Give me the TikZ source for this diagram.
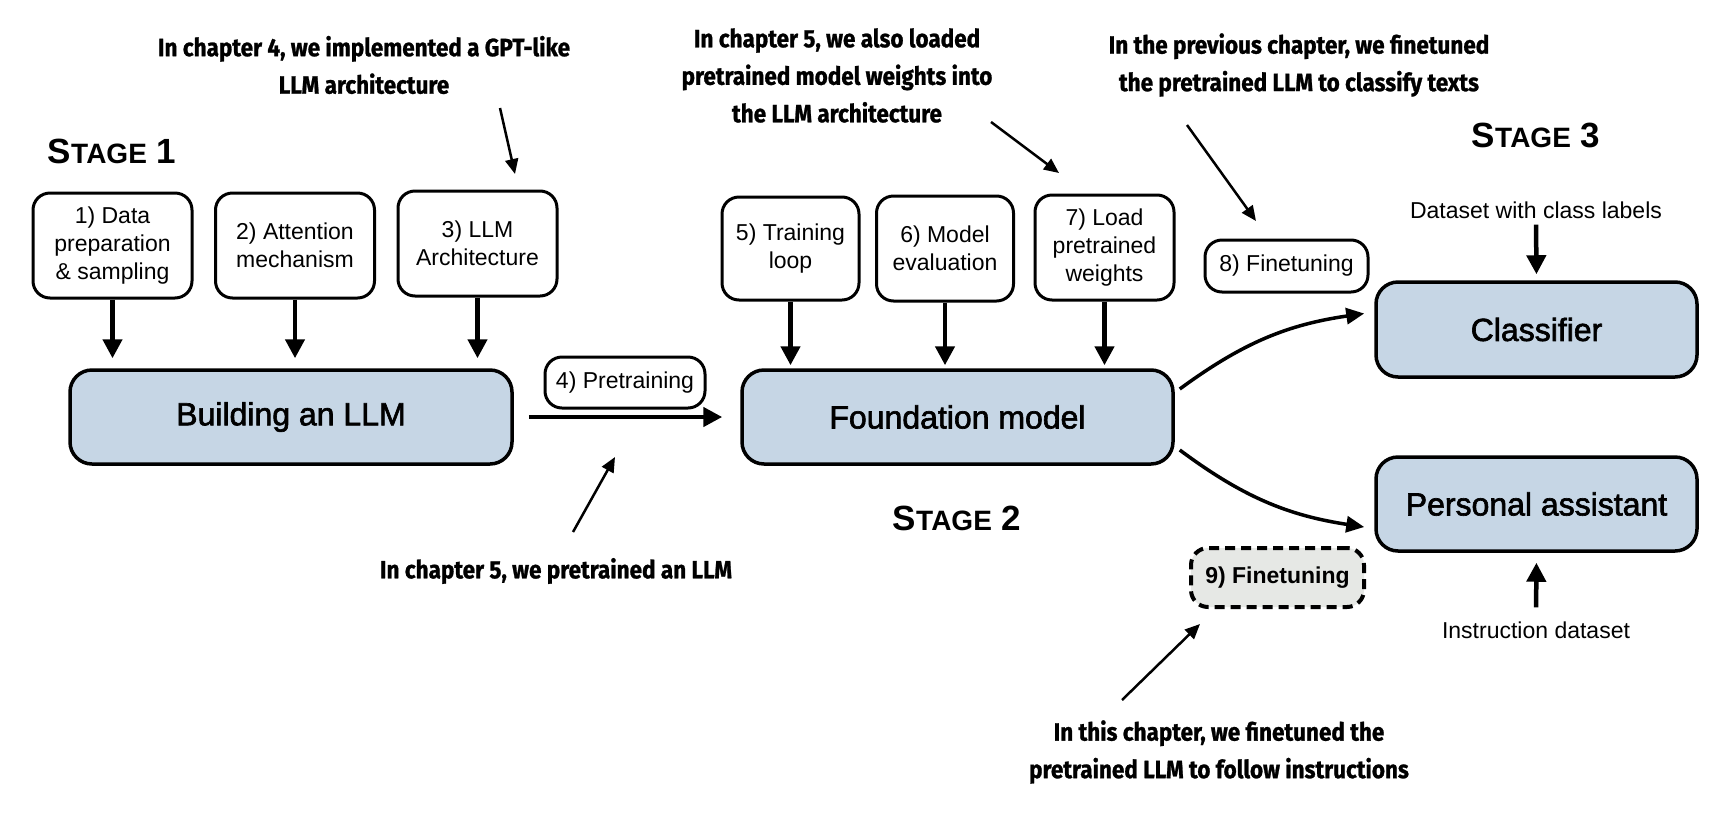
\documentclass[tikz,border=0pt]{standalone}
\usepackage{fontspec}
\setmainfont{Liberation Sans}
\newfontfamily\annfont{Fira Sans}[FakeStretch=0.9,FakeBold=1]
\newfontfamily\bigfont{Liberation Sans}[FakeBold=2]
\usetikzlibrary{arrows.meta,calc}
\definecolor{boxblue}{HTML}{C6D6E5}
\definecolor{boxgray}{HTML}{E6E8E5}
\tikzset{
  bigbox/.style={draw, line width=3.5pt, rounded corners=22pt, fill=boxblue, inner sep=0pt, font=\bigfont\fontsize{32}{38}\selectfont},
  smallbox/.style={draw, line width=3pt, rounded corners=17pt, align=center, inner sep=0pt, font=\fontsize{23}{28}\selectfont},
  ann/.style={align=center, inner sep=0pt, font=\annfont\bfseries\fontsize{25}{37.5}\selectfont},
  stagelbl/.style={inner sep=0pt, font=\bfseries},
  lbl/.style={inner sep=0pt, font=\fontsize{23}{28}\selectfont},
  thickarrow/.style={line width=4.5pt, -{Triangle[width=19pt,length=19pt]}},
  annarrow/.style={line width=2.5pt, -{Triangle[width=13pt,length=15pt]}},
  curvearrow/.style={line width=3.5pt, -{Triangle[width=16pt,length=18pt]}},
}
\newcommand{\stagetext}[1]{{\fontsize{35}{35}\selectfont S\fontsize{28}{28}\selectfont TAGE\fontsize{35}{35}\selectfont\ #1}}
\begin{document}
\begin{tikzpicture}[x=1pt,y=-1pt]
\useasboundingbox (0,0) rectangle (1730,820);
\fill[white] (0,0) rectangle (1730,820);

% Stage labels
\node[stagelbl] (s1) at (112,151) {\stagetext{1}};
\node[stagelbl] (s2) at (957,518) {\stagetext{2}};
\node[stagelbl] (s3) at (1536,135) {\stagetext{3}};

% Stage 1 boxes
\node[smallbox, minimum width=159pt, minimum height=105pt] (b1) at (112.5,245.5) {1) Data\\preparation\\\& sampling};
\node[smallbox, minimum width=159pt, minimum height=105pt] (b2) at (295,245.5) {2) Attention\\mechanism};
\node[smallbox, minimum width=159pt, minimum height=105pt] (b3) at (477.5,243.5) {3) LLM\\Architecture};
\node[bigbox, minimum width=442pt, minimum height=94pt] (build) at (291,417) {Building an LLM};

% Stage 2 boxes
\node[smallbox, minimum width=137pt, minimum height=103pt] (b5) at (790.5,248.5) {5) Training\\loop};
\node[smallbox, minimum width=137pt, minimum height=105pt] (b6) at (945,248.5) {6) Model\\evaluation};
\node[smallbox, minimum width=139pt, minimum height=105pt] (b7) at (1104.5,247.5) {7) Load\\pretrained\\weights};
\node[bigbox, minimum width=431pt, minimum height=94pt] (found) at (957.5,417) {Foundation model};
\node[smallbox, minimum width=160pt, minimum height=51pt] (pre) at (625,382.5) {4) Pretraining};

% Stage 3
\node[smallbox, minimum width=163pt, minimum height=52pt] (ft8) at (1286.5,266) {8) Finetuning};
\node[smallbox, dash pattern=on 10pt off 6pt, line width=4pt, fill=boxgray, minimum width=173pt, minimum height=59pt, font=\bfseries\fontsize{23}{28}\selectfont] (ft9) at (1277.5,577.5) {9) Finetuning};
\node[bigbox, minimum width=321pt, minimum height=95pt] (cls) at (1536.5,329.5) {Classifier};
\node[bigbox, minimum width=321pt, minimum height=94pt] (pa) at (1536.5,504) {Personal assistant};
\node[lbl] (dsl) at (1536,210) {Dataset with class labels};
\node[lbl] (ids) at (1536,630) {Instruction dataset};

% Annotations
\node[ann] (a4) at (364,65) {In chapter 4, we implemented a GPT-like\\LLM architecture};
\node[ann] (a5w) at (837,75.5) {In chapter 5, we also loaded\\pretrained model weights into\\the LLM architecture};
\node[ann] (aprev) at (1299,65) {In the previous chapter, we finetuned\\the pretrained LLM to classify texts};
\node[ann] (a5p) at (556,571) {In chapter 5, we pretrained an LLM};
\node[ann] (athis) at (1219,752) {In this chapter, we finetuned the\\pretrained LLM to follow instructions};

\coordinate (c4s) at (500,108);   \coordinate (c4e) at (515,174);
\coordinate (c5s) at (991,122);   \coordinate (c5e) at (1059,173);
\coordinate (cps) at (1187,125);  \coordinate (cpe) at (1256,221);
\coordinate (cqs) at (573,532);   \coordinate (cqe) at (615,457);
\coordinate (cts) at (1122,700);  \coordinate (cte) at (1200,624);
\draw[annarrow] (c4s) -- (c4e);
\draw[annarrow] (c5s) -- (c5e);
\draw[annarrow] (cps) -- (cpe);
\draw[annarrow] (cqs) -- (cqe);
\draw[annarrow] (cts) -- (cte);

% Down arrows
\foreach \b in {b1,b2,b3} \draw[thickarrow, shorten >=10pt] (\b.south) -- (\b.south |- build.north);
\foreach \b in {b5,b6,b7} \draw[thickarrow, shorten >=3pt] (\b.south) -- (\b.south |- found.north);

% Pretraining arrow
\draw[thickarrow, shorten <=15pt, shorten >=18pt] (build.east) -- (found.west);

% Curved arrows
\draw[curvearrow] ([xshift=5pt,yshift=28pt]found.east) to[bend left=14] ([xshift=-10pt,yshift=16pt]cls.west);
\draw[curvearrow] ([xshift=5pt,yshift=-33pt]found.east) to[bend right=14] ([xshift=-10pt,yshift=-23pt]pa.west);

% Dataset arrows
\draw[thickarrow, shorten <=6pt, shorten >=6pt] (dsl.south) -- (cls.north);
\draw[thickarrow, shorten <=14pt, shorten >=10pt] (ids.north) -- (pa.south);
\end{tikzpicture}
\end{document}
